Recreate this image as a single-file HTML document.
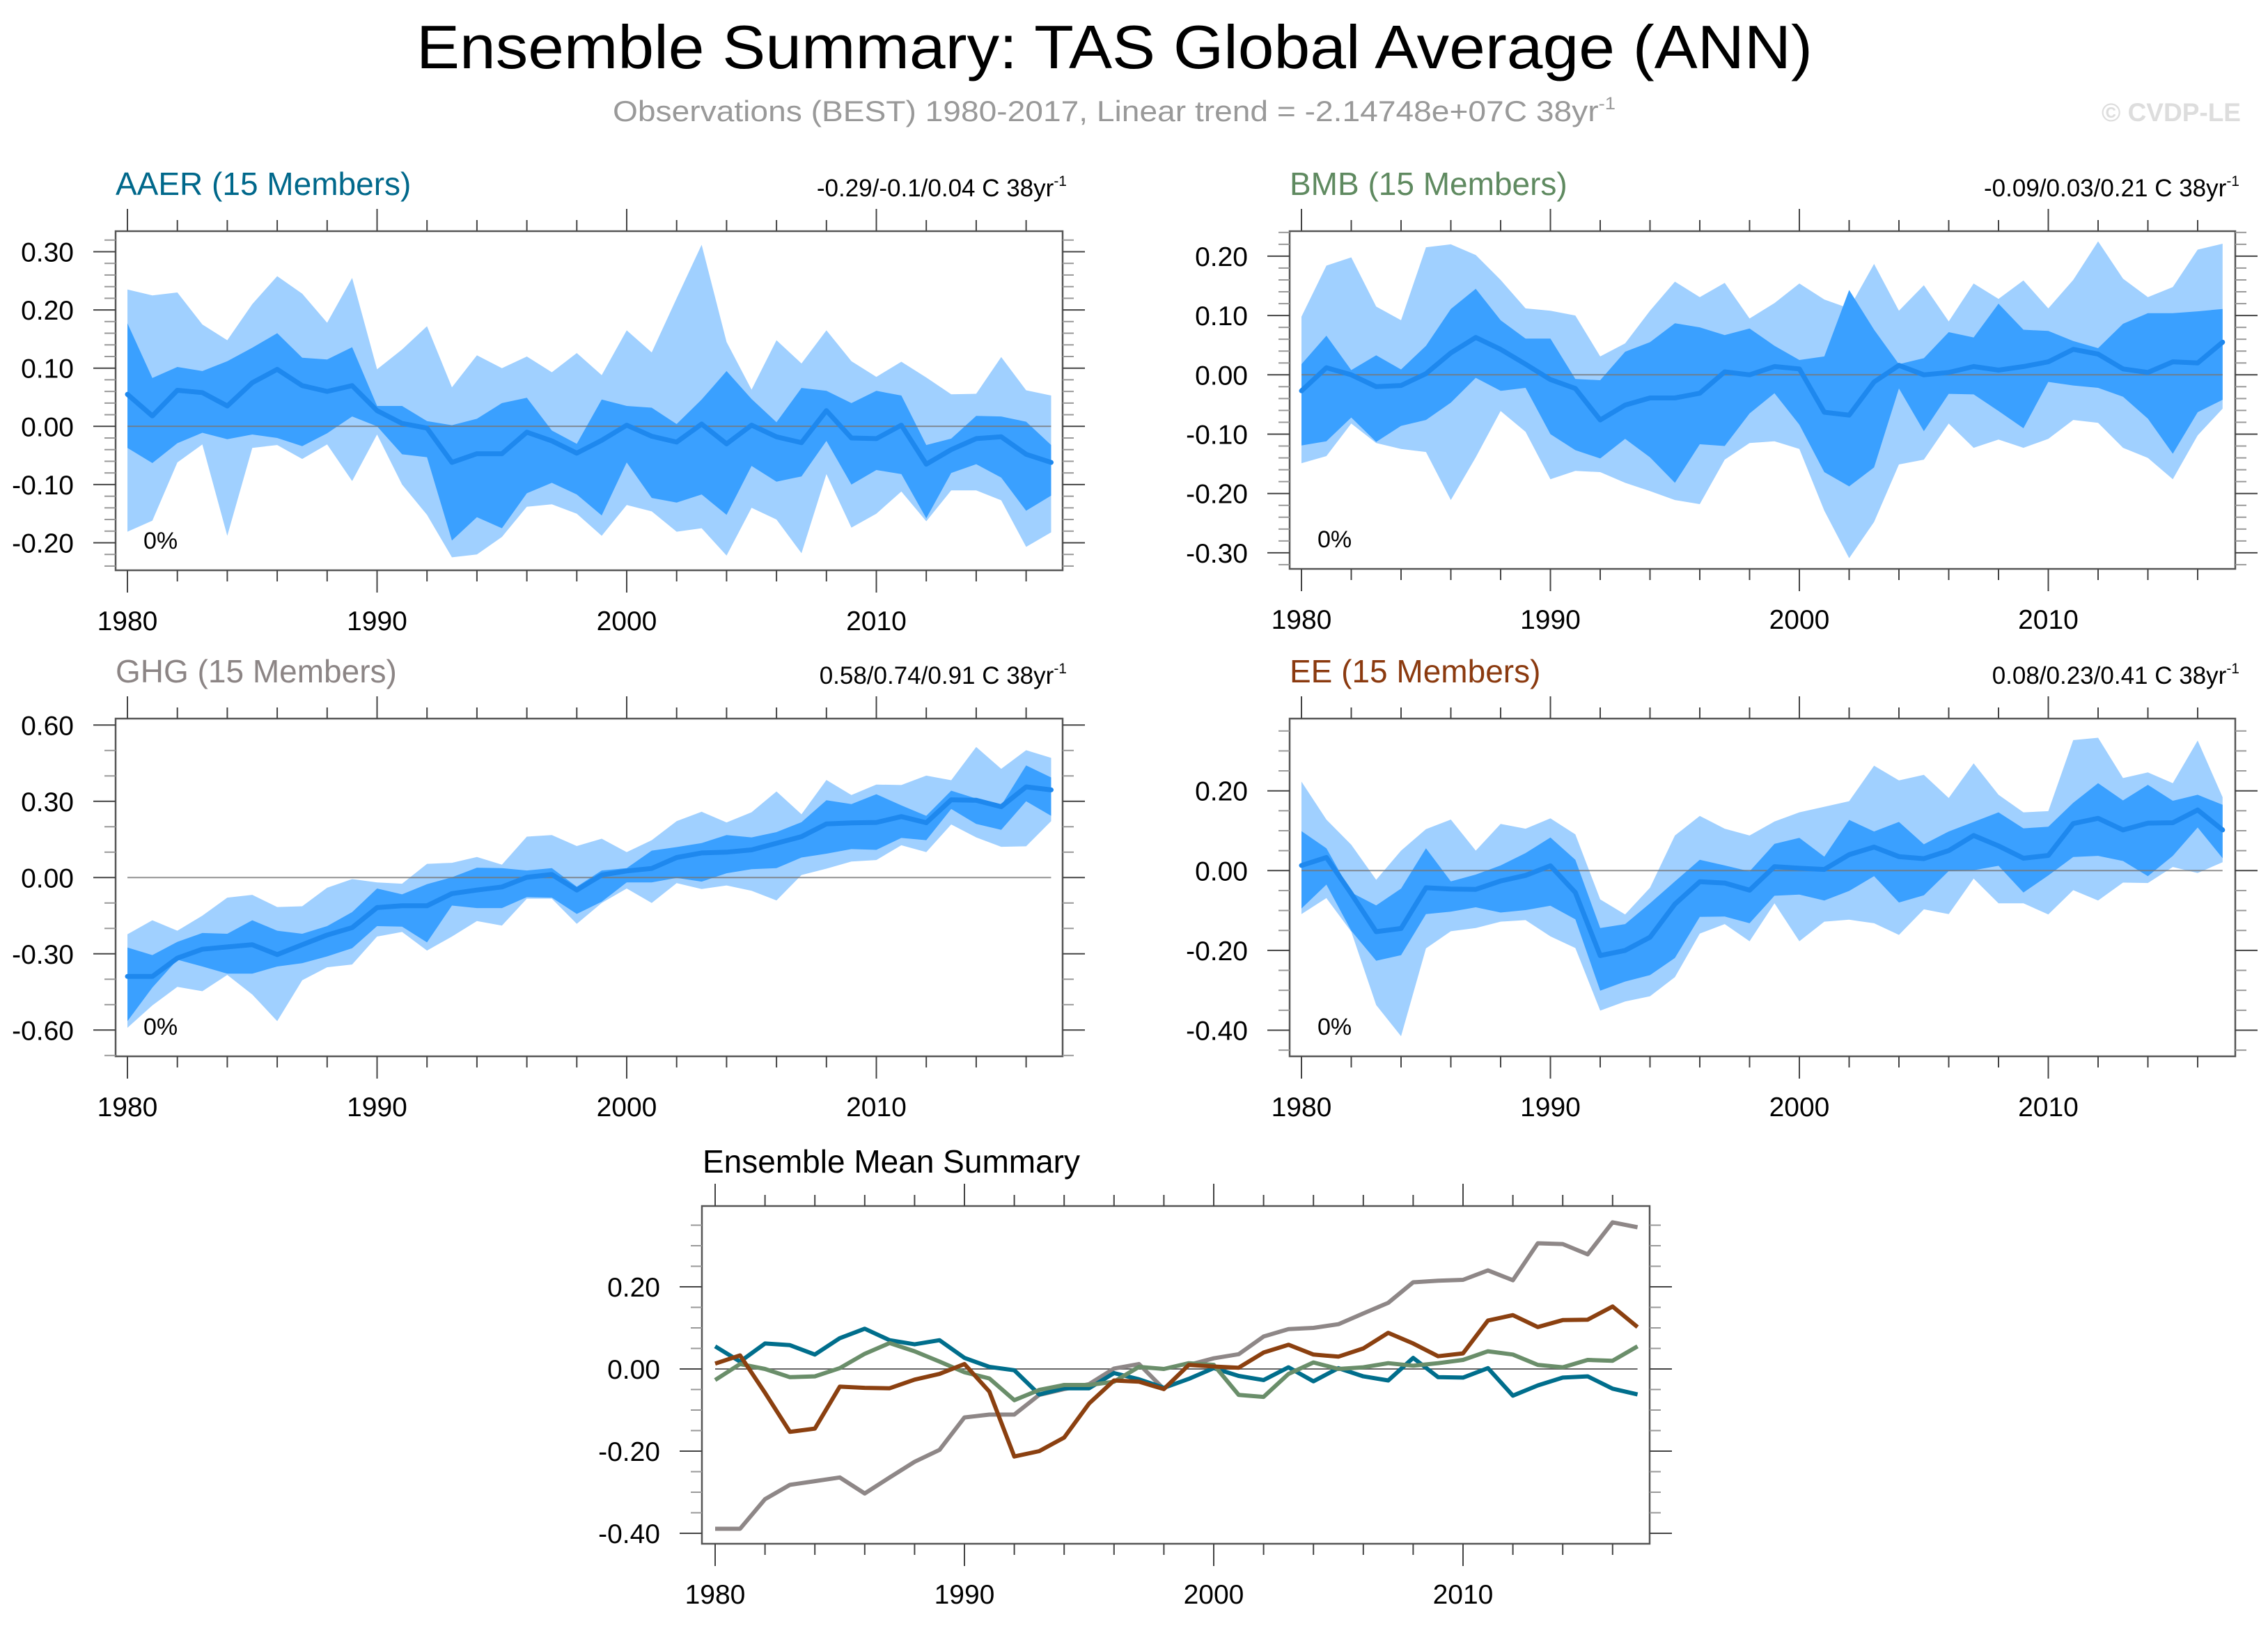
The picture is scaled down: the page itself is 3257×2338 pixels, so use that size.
<!DOCTYPE html>
<html><head><meta charset="utf-8"><title>Ensemble Summary: TAS Global Average (ANN)</title>
<style>
html,body{margin:0;padding:0;background:#fff;}
svg{display:block;font-family:"Liberation Sans",Arial,sans-serif;}
</style></head>
<body>
<svg id="chart" width="3257" height="2338" viewBox="0 0 3257 2338" xmlns="http://www.w3.org/2000/svg">
<rect width="3257" height="2338" fill="#fff"/>
<text x="598" y="98" font-size="88" textLength="2005" lengthAdjust="spacingAndGlyphs" fill="#000">Ensemble Summary: TAS Global Average (ANN)</text>
<text x="880" y="174" font-size="42" fill="#999" textLength="1440" lengthAdjust="spacingAndGlyphs">Observations (BEST) 1980-2017, Linear trend = -2.14748e+07C 38yr<tspan dy="-17" font-size="25">-1</tspan></text>
<text x="3218" y="174" font-size="37" font-weight="bold" fill="#ddd" text-anchor="end">© CVDP-LE</text>
<g id="panels"></g>
</svg>
<script>
const years = [];
for (let y = 1980; y <= 2017; y++) years.push(y);

// AAER
const aaerMean = [0.055,0.018,0.062,0.058,0.035,0.075,0.098,0.07,0.06,0.07,0.027,0.005,-0.003,-0.062,-0.047,-0.047,-0.01,-0.025,-0.046,-0.024,0.002,-0.017,-0.027,0.004,-0.03,0.002,-0.018,-0.028,0.027,-0.02,-0.021,0.002,-0.065,-0.04,-0.021,-0.018,-0.048,-0.062];
const aaerMax = [0.235,0.225,0.23,0.175,0.148,0.21,0.258,0.228,0.178,0.255,0.098,0.132,0.172,0.067,0.122,0.10,0.12,0.093,0.126,0.088,0.165,0.127,0.22,0.312,0.145,0.063,0.148,0.108,0.165,0.112,0.085,0.111,0.084,0.055,0.056,0.119,0.062,0.053];
const aaerMin = [-0.181,-0.162,-0.062,-0.031,-0.188,-0.037,-0.032,-0.056,-0.031,-0.094,-0.014,-0.10,-0.152,-0.225,-0.22,-0.19,-0.138,-0.134,-0.15,-0.188,-0.135,-0.146,-0.181,-0.175,-0.222,-0.14,-0.16,-0.218,-0.082,-0.174,-0.15,-0.112,-0.163,-0.11,-0.11,-0.127,-0.207,-0.182];
const aaerHi = [0.177,0.083,0.102,0.095,0.112,0.135,0.16,0.118,0.115,0.136,0.035,0.035,0.009,0.002,0.013,0.04,0.049,-0.007,-0.03,0.046,0.035,0.032,0.004,0.046,0.095,0.047,0.007,0.066,0.061,0.04,0.061,0.053,-0.032,-0.021,0.018,0.017,0.008,-0.032];
const aaerLo = [-0.037,-0.063,-0.029,-0.011,-0.022,-0.014,-0.02,-0.034,-0.012,0.017,0.0,-0.048,-0.053,-0.196,-0.156,-0.175,-0.115,-0.097,-0.117,-0.153,-0.062,-0.123,-0.131,-0.117,-0.152,-0.068,-0.095,-0.086,-0.025,-0.1,-0.075,-0.082,-0.158,-0.08,-0.065,-0.088,-0.145,-0.119];

// BMB
const bmbMean = [-0.027,0.012,0.0,-0.02,-0.018,0.002,0.037,0.063,0.043,0.018,-0.008,-0.023,-0.076,-0.051,-0.039,-0.039,-0.031,0.005,0.0,0.014,0.01,-0.063,-0.068,-0.012,0.016,0.0,0.004,0.014,0.008,0.014,0.022,0.043,0.035,0.01,0.004,0.022,0.02,0.055];
const bmbMax = [0.098,0.184,0.198,0.115,0.092,0.215,0.22,0.202,0.16,0.112,0.108,0.1,0.031,0.053,0.108,0.157,0.131,0.155,0.095,0.121,0.154,0.127,0.112,0.187,0.108,0.151,0.09,0.154,0.128,0.159,0.112,0.16,0.225,0.162,0.131,0.148,0.211,0.221];
const bmbMin = [-0.149,-0.137,-0.082,-0.115,-0.125,-0.13,-0.211,-0.139,-0.061,-0.096,-0.176,-0.162,-0.164,-0.182,-0.196,-0.211,-0.218,-0.143,-0.115,-0.112,-0.125,-0.229,-0.309,-0.248,-0.151,-0.143,-0.082,-0.123,-0.109,-0.123,-0.108,-0.076,-0.081,-0.123,-0.14,-0.176,-0.102,-0.057];
const bmbHi = [0.018,0.066,0.008,0.033,0.009,0.049,0.111,0.145,0.092,0.061,0.061,-0.007,-0.009,0.039,0.055,0.087,0.08,0.067,0.078,0.049,0.025,0.031,0.143,0.076,0.018,0.028,0.072,0.063,0.12,0.076,0.074,0.057,0.045,0.086,0.104,0.104,0.107,0.111];
const bmbLo = [-0.119,-0.112,-0.072,-0.113,-0.086,-0.076,-0.047,-0.005,-0.027,-0.022,-0.1,-0.127,-0.141,-0.108,-0.139,-0.182,-0.117,-0.12,-0.065,-0.031,-0.084,-0.164,-0.188,-0.156,-0.023,-0.095,-0.032,-0.033,-0.061,-0.09,-0.012,-0.018,-0.022,-0.037,-0.074,-0.133,-0.063,-0.042];

// GHG
const ghgMean = [-0.389,-0.389,-0.317,-0.282,-0.273,-0.264,-0.303,-0.264,-0.226,-0.197,-0.118,-0.111,-0.111,-0.063,-0.049,-0.037,0.001,0.012,-0.049,0.01,0.026,0.036,0.079,0.097,0.1,0.109,0.135,0.161,0.211,0.215,0.217,0.24,0.216,0.306,0.304,0.279,0.357,0.345];
const ghgMax = [-0.223,-0.168,-0.209,-0.15,-0.079,-0.068,-0.116,-0.113,-0.04,-0.006,-0.019,-0.024,0.054,0.058,0.081,0.051,0.161,0.167,0.124,0.153,0.1,0.147,0.222,0.259,0.217,0.257,0.339,0.249,0.384,0.325,0.366,0.364,0.401,0.383,0.514,0.428,0.501,0.471];
const ghgMin = [-0.591,-0.503,-0.43,-0.447,-0.383,-0.46,-0.565,-0.404,-0.353,-0.342,-0.232,-0.214,-0.287,-0.232,-0.171,-0.189,-0.083,-0.083,-0.182,-0.1,-0.043,-0.1,-0.022,-0.045,-0.031,-0.052,-0.09,0.01,0.035,0.063,0.069,0.127,0.1,0.209,0.158,0.121,0.123,0.222];
const ghgHi = [-0.275,-0.305,-0.253,-0.218,-0.221,-0.168,-0.209,-0.221,-0.191,-0.136,-0.043,-0.066,-0.026,0.001,0.039,0.037,0.028,0.037,-0.036,0.028,0.037,0.106,0.12,0.136,0.167,0.158,0.179,0.218,0.304,0.289,0.328,0.284,0.243,0.342,0.311,0.284,0.441,0.394];
const ghgLo = [-0.565,-0.433,-0.323,-0.35,-0.378,-0.378,-0.35,-0.337,-0.31,-0.278,-0.191,-0.193,-0.255,-0.11,-0.12,-0.12,-0.077,-0.079,-0.143,-0.095,-0.019,-0.019,-0.001,-0.016,0.017,0.033,0.037,0.079,0.094,0.112,0.109,0.156,0.147,0.27,0.211,0.188,0.3,0.243];

// EE
const eeMean = [0.013,0.033,-0.058,-0.153,-0.145,-0.043,-0.046,-0.047,-0.026,-0.012,0.012,-0.055,-0.213,-0.2,-0.167,-0.084,-0.028,-0.031,-0.049,0.01,0.006,0.003,0.04,0.059,0.035,0.03,0.05,0.088,0.062,0.031,0.038,0.118,0.131,0.102,0.119,0.12,0.152,0.102];
const eeMax = [0.223,0.128,0.065,-0.023,0.05,0.104,0.128,0.05,0.117,0.105,0.131,0.091,-0.072,-0.11,-0.043,0.088,0.137,0.105,0.088,0.123,0.146,0.16,0.174,0.263,0.226,0.24,0.182,0.269,0.19,0.146,0.149,0.327,0.333,0.232,0.246,0.219,0.326,0.184];
const eeMin = [-0.109,-0.069,-0.153,-0.337,-0.415,-0.195,-0.152,-0.144,-0.128,-0.124,-0.165,-0.194,-0.351,-0.328,-0.315,-0.267,-0.158,-0.134,-0.177,-0.082,-0.177,-0.128,-0.123,-0.132,-0.161,-0.097,-0.109,-0.02,-0.082,-0.082,-0.11,-0.049,-0.075,-0.03,-0.031,0.009,-0.006,0.021];
const eeHi = [0.099,0.056,-0.055,-0.087,-0.045,0.056,-0.027,-0.01,0.013,0.044,0.083,0.027,-0.144,-0.134,-0.082,-0.027,0.027,0.013,-0.002,0.067,0.082,0.035,0.127,0.098,0.122,0.066,0.098,0.122,0.146,0.106,0.11,0.17,0.219,0.176,0.215,0.175,0.19,0.165];
const eeLo = [-0.095,-0.035,-0.151,-0.226,-0.212,-0.109,-0.103,-0.092,-0.105,-0.099,-0.088,-0.122,-0.301,-0.278,-0.262,-0.219,-0.116,-0.115,-0.132,-0.063,-0.06,-0.075,-0.051,-0.014,-0.08,-0.062,-0.001,0.001,0.012,-0.055,-0.012,0.034,0.037,0.024,-0.014,0.037,0.108,0.031];

const xTickYears = [1980,1990,2000,2010];

const NS = "http://www.w3.org/2000/svg";
const root = document.getElementById('panels');
function mk(tag, attrs, parent) {
  const e = document.createElementNS(NS, tag);
  for (const k in attrs) e.setAttribute(k, attrs[k]);
  (parent || root).appendChild(e);
  return e;
}

function drawAxes(g, P, name) {
  const xs = yr => P.x0 + (yr - 1980) * P.dx;
  const ys = v => P.y0 - v * P.sy;
  const vTop = (P.y0 - P.top) / P.sy, vBot = (P.y0 - P.bot) / P.sy;
  const fr = mk('rect', {x:P.left, y:P.top, width:P.right-P.left, height:P.bot-P.top, fill:'none', stroke:'#555', 'stroke-width':2.5}, g);
  
  
  for (let yr = 1980; yr <= 2017; yr += 2) {
    const major = yr % 10 === 0;
    const L = major ? 32 : 16;
    const x = xs(yr);
    mk('line', {x1:x, x2:x, y1:P.top, y2:P.top - L, stroke:'#444', 'stroke-width':2}, g);
    mk('line', {x1:x, x2:x, y1:P.bot, y2:P.bot + L, stroke:'#444', 'stroke-width':2}, g);
  }
  xTickYears.forEach(yr => {
    const t = mk('text', {x:xs(yr), y:P.bot + 86, 'font-size':39, 'text-anchor':'middle', fill:'#000'}, g);
    
    
    t.textContent = yr;
  });
  const nMin = Math.ceil(vBot / P.minor - 1e-6), nMax = Math.floor(vTop / P.minor + 1e-6);
  for (let n = nMin; n <= nMax; n++) {
    const v = n * P.minor;
    const ratio = v / P.major;
    const major = Math.abs(ratio - Math.round(ratio)) < 1e-6;
    const L = major ? 32 : 16;
    const y = ys(v);
    mk('line', {x1:P.left, x2:P.left - L, y1:y, y2:y, stroke:major ? '#444' : '#999', 'stroke-width':2}, g);
    mk('line', {x1:P.right, x2:P.right + L, y1:y, y2:y, stroke:major ? '#444' : '#999', 'stroke-width':2}, g);
    if (major) {
      const t = mk('text', {x:P.left - 60, y:y + 14, 'font-size':39, 'text-anchor':'end', fill:'#000'}, g);
      
      
      t.textContent = v.toFixed(2);
    }
  }
  return {xs, ys};
}

function bandPath(xs, ys, up, lo) {
  let d = '';
  up.forEach((v, i) => { d += (i ? 'L' : 'M') + xs(years[i]).toFixed(1) + ',' + ys(v).toFixed(1); });
  for (let i = lo.length - 1; i >= 0; i--) d += 'L' + xs(years[i]).toFixed(1) + ',' + ys(lo[i]).toFixed(1);
  return d + 'Z';
}
function linePath(xs, ys, arr) {
  let d = '';
  arr.forEach((v, i) => { d += (i ? 'L' : 'M') + xs(years[i]).toFixed(1) + ',' + ys(v).toFixed(1); });
  return d;
}

function drawPanel(P, name, title, titleColor, trend, mean, mx, mn, hi, lo) {
  const g = mk('g', {});
  
  
  const xs = yr => P.x0 + (yr - 1980) * P.dx;
  const ys = v => P.y0 - v * P.sy;
  const b1 = mk('path', {d:bandPath(xs, ys, mx, mn), fill:'#a0d0ff'}, g);
  
  
  const b2 = mk('path', {d:bandPath(xs, ys, hi, lo), fill:'#3aa0ff'}, g);
  
  
  const z = mk('line', {x1:xs(1980), x2:xs(2017), y1:ys(0), y2:ys(0), stroke:'#777', 'stroke-width':2, opacity:0.8}, g);
  
  
  const m = mk('path', {d:linePath(xs, ys, mean), fill:'none', stroke:'#1e88ee', 'stroke-width':7, 'stroke-linejoin':'round', 'stroke-linecap':'round'}, g);
  
  
  drawAxes(g, P, name);
  const t = mk('text', {x:P.left, y:P.top - 52, 'font-size':46, fill:titleColor}, g);
  
  
  t.textContent = title;
  const tr = mk('text', {x:P.right + 6, y:P.top - 50, 'font-size':35, 'text-anchor':'end', fill:'#000'}, g);
  
  
  tr.innerHTML = trend + ' C 38yr<tspan dy="-15" font-size="21">-1</tspan>';
  const pc = mk('text', {x:P.left + 40, y:P.bot - 31, 'font-size':34, fill:'#000'}, g);
  
  
  pc.textContent = '0%';
}

const PL = 166, PR = 1526, QL = 1852, QR = 3210;
drawPanel({left:PL, right:PR, top:332, bot:819, x0:PL+17, dx:35.85, y0:612.3, sy:836, major:0.1, minor:0.02},
  'aaer', 'AAER (15 Members)', '#00688b', '-0.29/-0.1/0.04', aaerMean, aaerMax, aaerMin, aaerHi, aaerLo);
drawPanel({left:QL, right:QR, top:332, bot:817, x0:QL+17, dx:35.75, y0:538.3, sy:852, major:0.1, minor:0.02},
  'bmb', 'BMB (15 Members)', '#5f8a60', '-0.09/0.03/0.21', bmbMean, bmbMax, bmbMin, bmbHi, bmbLo);
drawPanel({left:PL, right:PR, top:1032, bot:1517, x0:PL+17, dx:35.85, y0:1260.3, sy:365, major:0.3, minor:0.1},
  'ghg', 'GHG (15 Members)', '#8c8585', '0.58/0.74/0.91', ghgMean, ghgMax, ghgMin, ghgHi, ghgLo);
drawPanel({left:QL, right:QR, top:1032, bot:1517, x0:QL+17, dx:35.75, y0:1250.3, sy:573, major:0.2, minor:0.05},
  'ee', 'EE (15 Members)', '#8b3a0f', '0.08/0.23/0.41', eeMean, eeMax, eeMin, eeHi, eeLo);

(function(){
  const P = {left:1008, right:2369, top:1732, bot:2217, x0:1027, dx:35.8, y0:1966, sy:590, major:0.2, minor:0.05};
  const g = mk('g', {});
  
  
  const xs = yr => P.x0 + (yr - 1980) * P.dx;
  const ys = v => P.y0 - v * P.sy;
  const z = mk('line', {x1:xs(1980), x2:xs(2017), y1:ys(0), y2:ys(0), stroke:'#666', 'stroke-width':2}, g);
  
  
  const series = [
    ['ghg-mean-line', ghgMean, '#8e8787'],
    ['aaer-mean-line', aaerMean, '#006e8c'],
    ['bmb-mean-line', bmbMean, '#6a8e6a'],
    ['ee-mean-line', eeMean, '#8b4010']
  ];
  series.forEach(s => {
    const p = mk('path', {d:linePath(xs, ys, s[1]), fill:'none', stroke:s[2], 'stroke-width':6, 'stroke-linejoin':'round'}, g);
    
    
  });
  drawAxes(g, P, 'summary');
  const t = mk('text', {x:1009, y:1684, 'font-size':46, fill:'#000'}, g);
  
  
  t.textContent = 'Ensemble Mean Summary';
})();
</script>
</body></html>
